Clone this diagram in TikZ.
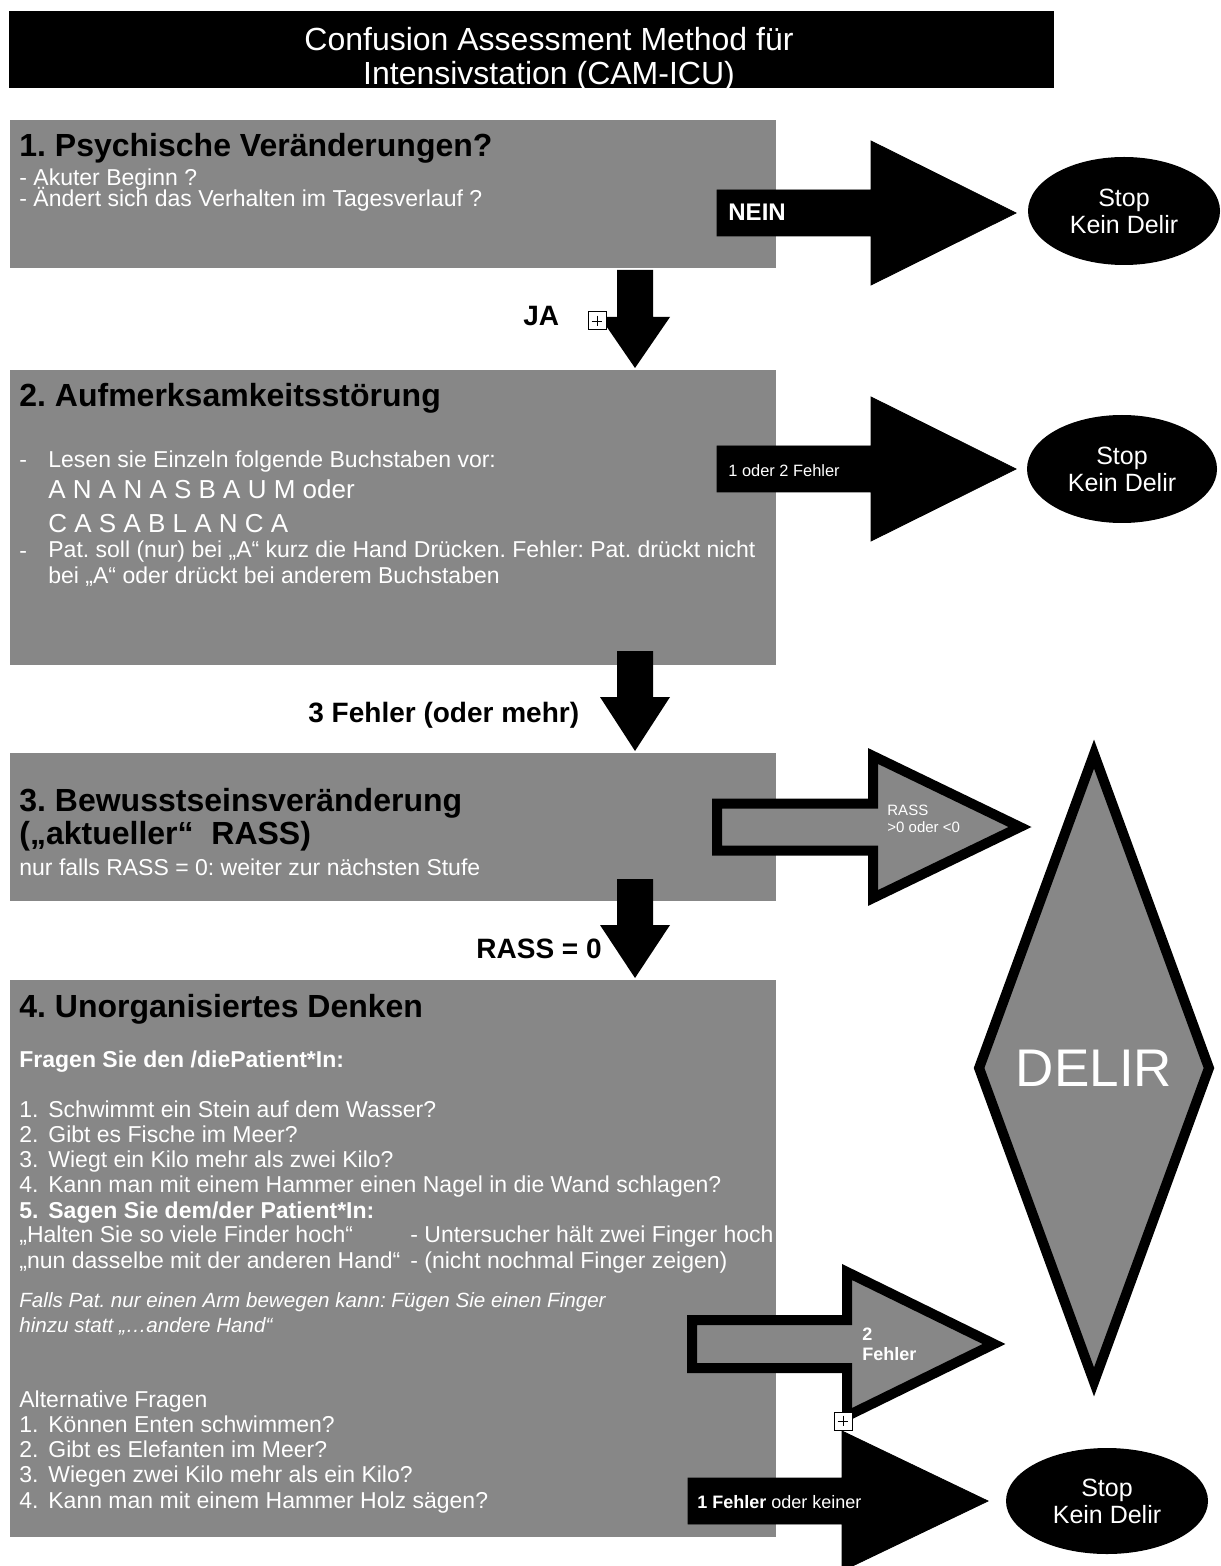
\documentclass[tikz,border=0pt]{standalone}
\usepackage{fontspec}
\setmainfont{Liberation Sans}
\usetikzlibrary{shapes.geometric,fit}
\definecolor{boxgray}{HTML}{878787}
\tikzset{
  >=latex,
  stepbox/.style={fill=boxgray,inner sep=0},
  titlebar/.style={fill=black,inner sep=0},
  blockarrow/.style={fill=black},
  hollowarrow/.style={fill=boxgray,draw=black,line width=5pt,line join=miter},
  stopnode/.style={ellipse,fill=black,text=white,inner sep=0,align=center,
    font=\fontsize{12.5}{13.5}\selectfont},
  boxtitle/.style={anchor=base west,inner sep=0,align=left,
    font=\bfseries\fontsize{16}{16.5}\selectfont},
  boxtext/.style={anchor=base west,inner sep=0,align=left,text=white,
    font=\fontsize{11.5}{12.6}\selectfont},
  arrowlabel/.style={anchor=base west,inner sep=0,
    font=\bfseries\fontsize{14}{16}\selectfont},
  inlabel/.style={anchor=base west,inner sep=0,align=left,text=white},
  plusbox/.style={draw,fill=white,line width=.5pt,minimum size=9pt,inner sep=0,
    path picture={\draw[line width=.45pt]
      ([yshift=-1.8pt]path picture bounding box.north) -- ([yshift=1.8pt]path picture bounding box.south)
      ([xshift=1.8pt]path picture bounding box.west) -- ([xshift=-1.8pt]path picture bounding box.east);}},
}
\lineskiplimit=-20pt
\frenchspacing
% right block arrow: style, x start, head base, tip, y centre, half shaft, half head
\newcommand\rblock[7]{%
  \draw[#1] (#2,{#5-#6}) -- (#3,{#5-#6}) -- (#3,{#5-#7}) -- (#4,#5)
    -- (#3,{#5+#7}) -- (#3,{#5+#6}) -- (#2,{#5+#6}) -- cycle;}
% down block arrow: y start, head base, tip
\newcommand\dblock[3]{%
  \fill (617,#1) -- (653,#1) -- (653,#2) -- (670,#2) -- (635,#3)
    -- (600,#2) -- (617,#2) -- cycle;}

\begin{document}
\begin{tikzpicture}[x=0.5pt,y=-0.5pt]
\useasboundingbox (0,0) rectangle (1220,1566);

% title (multi-line texts sit on their last baseline)
\node[titlebar,fit={(9,11) (1054,88)}] (head) {};
\node[anchor=base,align=center,inner sep=0,text=white,font=\fontsize{16}{17}\selectfont]
  (headtxt) at (549,85) {Confusion Assessment Method für\\Intensivstation (CAM-ICU)};

% steps
\node[stepbox,fit={(10,120) (776,268)}] (box1) {};
\node[stepbox,fit={(10,370) (776,665)}] (box2) {};
\node[stepbox,fit={(10,753) (776,901)}] (box3) {};
\node[stepbox,fit={(10,980) (776,1537)}] (box4) {};

% arrows
\rblock{blockarrow}{717}{871}{1016}{213}{23}{72}
\rblock{blockarrow}{717}{871}{1016}{469}{23}{72}
\rblock{hollowarrow}{717}{873}{1020}{827}{23.5}{71}
\rblock{hollowarrow}{692}{847}{994}{1344}{24}{72}
\rblock{blockarrow}{688}{842}{988}{1501}{23}{70}
\dblock{270}{317}{368}
\dblock{651}{697}{751}
\dblock{879}{925}{978}

\node[plusbox] (plus1) at (597,321) {};
\node[plusbox] (plus2) at (843,1421) {};

% results
\node[stopnode,minimum width=96pt,minimum height=54pt] (stop1) at (1124,211) {Stop\\Kein Delir};
\node[stopnode,minimum width=95pt,minimum height=54pt] (stop2) at (1122,469) {Stop\\Kein Delir};
\node[stopnode,minimum width=101pt,minimum height=53pt] (stop3) at (1107,1501) {Stop\\Kein Delir};
\node[diamond,fill=boxgray,draw=black,line width=5pt,minimum width=117pt,minimum height=316pt,
  inner sep=0,text=white,font=\fontsize{26.5}{28}\selectfont] (delir) at (1094,1068) {DELIR};

% arrow labels
\node[arrowlabel] (ja) at (523,326) {JA};
\node[arrowlabel] (fehler3) at (308,722) {3 Fehler (oder mehr)};
\node[arrowlabel] (rass0) at (476,958) {RASS = 0};
\node[inlabel,font=\bfseries\fontsize{12}{14}\selectfont] (nein) at (728,221) {NEIN};
\node[inlabel,font=\fontsize{8.2}{10}\selectfont] (fehler12) at (728,477) {1 oder 2 Fehler};
\node[inlabel,font=\fontsize{7.5}{8.5}\selectfont] (rassne) at (887,832) {RASS\\>0 oder <0};
\node[inlabel,font=\bfseries\fontsize{9}{10}\selectfont] (fehler2) at (862,1360) {2\\Fehler};
\node[inlabel,font=\fontsize{9}{10}\selectfont] (fehler01) at (697,1508) {\textbf{1 Fehler} oder keiner};

% step 1
\node[boxtitle] (t1) at (19,157) {1. Psychische Veränderungen?};
\node[boxtext,font=\fontsize{11.5}{10.5}\selectfont] (b1) at (19,207)
  {- Akuter Beginn ?\\- Ändert sich das Verhalten im Tagesverlauf ?};

% step 2
\node[boxtitle] (t2) at (19,407) {2. Aufmerksamkeitsstörung};
\node[boxtext] (d21) at (19,468) {-};
\node[boxtext] (b21) at (48,468) {Lesen sie Einzeln folgende Buchstaben vor:};
\node[boxtext,font=\fontsize{13}{17}\selectfont] (b22) at (48,532)
  {A N A N A S B A U M oder\\C A S A B L A N C A};
\node[boxtext] (d22) at (19,558) {-};
\node[boxtext] (b23) at (48,583)
  {Pat. soll (nur) bei „A“ kurz die Hand Drücken. Fehler: Pat. drückt nicht\\bei „A“ oder drückt bei anderem Buchstaben};

% step 3
\node[boxtitle] (t3) at (19,844) {3. Bewusstseinsveränderung\\(„aktueller“\ \ RASS)};
\node[boxtext] (b3) at (19,875) {nur falls RASS = 0: weiter zur nächsten Stufe};

% step 4
\node[boxtitle] (t4) at (19,1017) {4. Unorganisiertes Denken};
\node[boxtext,font=\bfseries\fontsize{11.5}{12.6}\selectfont] (b41) at (19,1067) {Fragen Sie den /diePatient*In:};
\node[boxtext] (n42) at (19,1218) {1.\\2.\\3.\\4.\\\textbf{5.}};
\node[boxtext] (b42) at (48,1218) {Schwimmt ein Stein auf dem Wasser?\\Gibt es Fische im Meer?\\Wiegt ein Kilo mehr als zwei Kilo?\\Kann man mit einem Hammer einen Nagel in die Wand schlagen?\\\textbf{Sagen Sie dem/der Patient*In:}};
\node[boxtext] (b43) at (19,1268) {„Halten Sie so viele Finder hoch“\\„nun dasselbe mit der anderen Hand“};
\node[boxtext] (b44) at (410,1268) {- Untersucher hält zwei Finger hoch\\- (nicht nochmal Finger zeigen)};
\node[boxtext,font=\itshape\fontsize{10.3}{12.5}\selectfont] (b45) at (19,1332)
  {Falls Pat. nur einen Arm bewegen kann: Fügen Sie einen Finger\\hinzu statt „…andere Hand“};
\node[boxtext] (b46) at (19,1407) {Alternative Fragen};
\node[boxtext] (n47) at (19,1508) {1.\\2.\\3.\\4.};
\node[boxtext] (b47) at (48,1508) {Können Enten schwimmen?\\Gibt es Elefanten im Meer?\\Wiegen zwei Kilo mehr als ein Kilo?\\Kann man mit einem Hammer Holz sägen?};
\end{tikzpicture}
\end{document}
